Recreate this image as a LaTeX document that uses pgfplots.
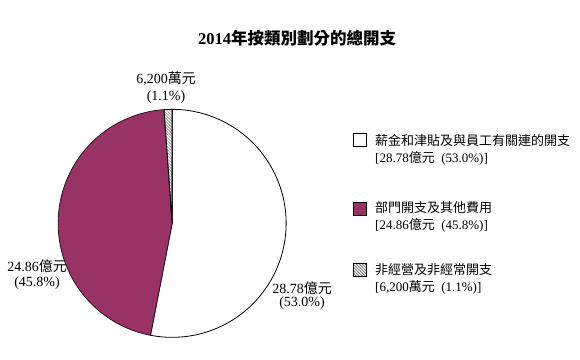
\documentclass[border=0pt]{standalone}
\usepackage{fontspec}
\setmainfont{Liberation Serif}
\newfontfamily\cjk{Noto Sans CJK TC}
\usepackage{pgfplots}
\pgfplotsset{compat=1.18}
\usepgfplotslibrary{polar}
\usetikzlibrary{patterns}
\definecolor{plum}{RGB}{153,51,102}
\newcommand\C[1]{{\cjk #1}}
\begin{document}
\begin{tikzpicture}[x=1bp,y=1bp]
\path[use as bounding box] (0,0) rectangle (580,359);
% data (HK$ hundred millions)
\pgfmathsetmacro\va{28.78}
\pgfmathsetmacro\vb{24.86}
\pgfmathsetmacro\vc{0.62}
\pgfmathsetmacro\tot{\va+\vb+\vc}
\pgfmathsetmacro\aA{90}
\pgfmathsetmacro\aB{90-360*\va/\tot}
\pgfmathsetmacro\aC{\aB-360*\vb/\tot}
\pgfmathsetmacro\aD{\aC-360*\vc/\tot}
\begin{polaraxis}[hide axis, scale only axis, width=228bp, height=228bp,
  ymin=0, ymax=1, at={(151,119)}, anchor=center, clip=false]
\addplot[draw=black, fill=white, line width=0.8bp, domain=\aB:\aA, samples=100] {1} -- (axis cs:0,0) -- cycle;
\addplot[draw=black!70!plum, fill=plum, line width=0.8bp, domain=\aC:\aB, samples=100] {1} -- (axis cs:0,0) -- cycle;
\addplot[draw=black, pattern=north west lines, pattern color=gray, line width=0.8bp, domain=\aD:\aC, samples=6] {1} -- (axis cs:0,0) -- cycle;
\end{polaraxis}
% title
\node[font=\fontsize{16.5bp}{20bp}\selectfont\bfseries] at (297,321) {2014\C{年按類別劃分的總開支}};
% pie labels
\begin{scope}[every node/.style={font=\fontsize{14bp}{17bp}\selectfont, inner sep=0pt}]
\node at (166,280) {6,200\C{萬元}};
\node at (166,262) {(1.1\%)};
\node at (37,93) {24.86\C{億元}};
\node at (37,76) {(45.8\%)};
\node at (302,71) {28.78\C{億元}};
\node at (302,56) {(53.0\%)};
\end{scope}
% legend
\draw[black, line width=1bp, fill=white] (353.5,213) rectangle (366.5,226);
\draw[black, line width=1bp, fill=plum] (353.5,143.5) rectangle (366.5,156.5);
\draw[black, line width=1bp, pattern=north west lines, pattern color=black] (353.5,82.5) rectangle (366.5,95.5);
\begin{scope}[every node/.style={font=\fontsize{13bp}{16bp}\selectfont, inner sep=0pt, anchor=west}]
\node at (375,218) {\C{薪金和津貼及與員工有關連的開支}};
\node at (375,201) {[28.78\C{億元}\ \ (53.0\%)]};
\node at (375,151) {\C{部門開支及其他費用}};
\node at (375,134) {[24.86\C{億元}\ \ (45.8\%)]};
\node at (375,89) {\C{非經營及非經常開支}};
\node at (375,72) {[6,200\C{萬元}\ \ (1.1\%)]};
\end{scope}
\end{tikzpicture}
\end{document}
